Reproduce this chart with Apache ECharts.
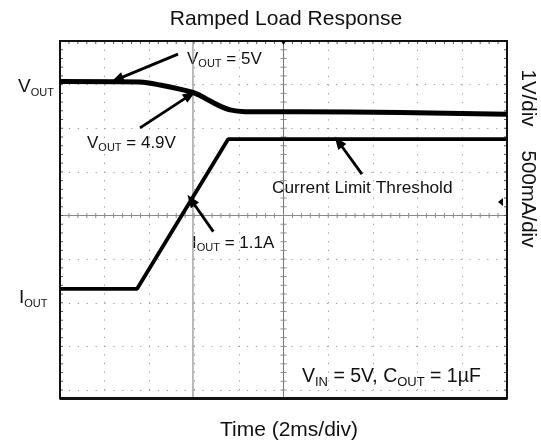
<!DOCTYPE html>
<html><head><meta charset="utf-8">
<script src="https://cdn.jsdelivr.net/npm/echarts@6/dist/echarts.min.js"></script>
<style>html,body{margin:0;padding:0;background:#fff}#c{width:541px;height:447px}</style>
</head><body><div id="c"></div>
<script>
// Time in ms relative to trigger (2 ms/div), amplitude in screen divisions (centre = 0)
const timeV = [-10, -6.42, -5.52, -4.05, -3.51, -2.93, -2.39, -1.72, 0.75, 5.22, 10];
const voutDiv = [3.07, 3.06, 2.99, 2.82, 2.69, 2.53, 2.42, 2.38, 2.38, 2.36, 2.32];
const timeI = [-10, -6.55, -2.48, 10];
const ioutDiv = [-1.68, -1.68, 1.75, 1.75];
const cursorTime = -4.05;
const triggerLevel = 0.31;
// annotation arrows: [tailTime, tailDiv, tipTime, tipDiv]
const arrowVout5 = [-4.72, 3.70, -7.45, 3.12];
const arrowVout49 = [-6.42, 2.01, -4.18, 2.76];
const arrowIout = [-3.14, -0.37, -4.13, 0.355];
const arrowLimit = [3.51, 0.95, 2.46, 1.69];

const FONT = '"Liberation Sans", Arial, sans-serif';
const chart = echarts.init(document.getElementById('c'), null, {renderer: 'canvas'});

function pairs(xs, ys) { return xs.map((x, i) => [x, ys[i]]); }
function arrow(a) {
  return [{coord: [a[0], a[1]], symbol: 'none'}, {coord: [a[2], a[3]], symbol: 'triangle', symbolSize: [10, 13]}];
}

function renderFrame(params, api) {
  const tl = api.coord([-10, 4]), br = api.coord([10, -4]);
  const x0 = tl[0], x1 = br[0], y0 = tl[1], y1 = br[1];
  const yB = y1 + 8.5;
  const c = api.coord([0, 0]);
  const cx = c[0], cy = c[1];
  const cur = api.coord([cursorTime, 0])[0];
  const ch = [];
  const ln = (a, b, c2, d, color, w) => ch.push({type: 'line', shape: {x1: a, y1: b, x2: c2, y2: d}, style: {stroke: color, lineWidth: w}});
  ln(cur, y0, cur, yB, '#777', 1);
  ln(x0, cy, x1, cy, '#8a8a8a', 1);
  ln(cx, y0, cx, yB, '#777', 1);
  for (let i = 0; i <= 50; i++) {
    const px = api.coord([-10 + i * 0.4, 0])[0];
    ln(px, cy - 2.5, px, cy + 2.5, '#8a8a8a', 1);
    ln(px, y0, px, y0 + 3, '#555', 1);
  }
  for (let j = 0; j <= 40; j++) {
    const py = api.coord([0, -4 + j * 0.2])[1];
    ln(cx - 3, py, cx + 3, py, '#8a8a8a', 1);
    ln(x0, py, x0 + 3, py, '#555', 1);
    ln(x1 - 3, py, x1, py, '#555', 1);
  }
  ch.push({type: 'rect', shape: {x: x0, y: y0, width: x1 - x0, height: yB - y0}, style: {fill: 'none', stroke: '#111', lineWidth: 2}});
  ln(x0, yB, x1, yB, '#111', 3);
  const tp = api.coord([10, triggerLevel]);
  ch.push({type: 'polygon', shape: {points: [[tp[0] - 9, tp[1]], [tp[0] - 4, tp[1] - 4], [tp[0] - 4, tp[1] + 4]]}, style: {fill: '#000'}});
  ch.push({type: 'polygon', shape: {points: [[cx - 2.5, y0], [cx + 2.5, y0], [cx, y0 + 4]]}, style: {fill: '#000'}});
  return {type: 'group', children: ch};
}

function rt(x, y, parts, size, subSize, drop) {
  return {
    type: 'text', x: x, y: y, silent: true,
    style: {
      text: parts, fill: '#111', font: size + 'px ' + FONT,
      align: 'left', verticalAlign: 'middle', textAlign: 'left', textVerticalAlign: 'middle',
      rich: {
        m: {fontSize: size, fontFamily: FONT, lineHeight: size + 4, fill: '#111'},
        s: {fontSize: subSize, fontFamily: FONT, lineHeight: size + 4 - 2 * drop, verticalAlign: 'bottom', fill: '#111'}
      }
    }
  };
}
function pt(x, y, text, size, rot) {
  return {
    type: 'text', x: x, y: y, rotation: rot || 0, silent: true,
    style: {text: text, fill: '#111', font: size + 'px ' + FONT, align: 'center', verticalAlign: 'middle', textAlign: 'center', textVerticalAlign: 'middle'}
  };
}

const option = {
  animation: false,
  backgroundColor: '#fff',
  grid: {left: 60, right: 34, top: 41, bottom: 57, containLabel: false},
  xAxis: {
    type: 'value', min: -10, max: 10, interval: 2,
    axisLine: {show: false}, axisTick: {show: false}, axisLabel: {show: false},
    splitLine: {show: true, lineStyle: {color: '#9a9a9a', width: 1, type: [1.2, 7.5]}}
  },
  yAxis: {
    type: 'value', min: -4, max: 4, interval: 1,
    axisLine: {show: false}, axisTick: {show: false}, axisLabel: {show: false},
    splitLine: {show: true, lineStyle: {color: '#9a9a9a', width: 1, type: [1.2, 7.7]}}
  },
  series: [
    {type: 'custom', name: 'frame', renderItem: renderFrame, data: [[0, 0]], clip: false, silent: true, z: 1},
    {type: 'line', name: 'VOUT', data: pairs(timeV, voutDiv), smooth: 0.3, showSymbol: false, silent: true, z: 3,
     lineStyle: {color: '#000', width: 5},
     markLine: {silent: true, animation: false, label: {show: false}, lineStyle: {color: '#000', width: 2.8, type: 'solid'},
       data: [arrow(arrowVout5), arrow(arrowVout49), arrow(arrowIout), arrow(arrowLimit)]}},
    {type: 'line', name: 'IOUT', data: pairs(timeI, ioutDiv), showSymbol: false, silent: true, z: 3,
     lineStyle: {color: '#000', width: 3.8}}
  ],
  graphic: [
    pt(286, 19, 'Ramped Load Response', 21),
    pt(289, 430, 'Time (2ms/div)', 21),
    pt(528, 98, '1V/div', 20.5, -Math.PI / 2),
    pt(528, 199, '500mA/div', 20.5, -Math.PI / 2),
    rt(18, 87, '{m|V}{s|OUT}', 19, 11, 3.5),
    rt(19, 298, '{m|I}{s|OUT}', 19, 11, 3.5),
    rt(187, 59, '{m|V}{s|OUT}{m| = 5V}', 17, 11, 3),
    rt(87, 143, '{m|V}{s|OUT}{m| = 4.9V}', 17, 11, 3),
    rt(192, 243, '{m|I}{s|OUT}{m| = 1.1A}', 17, 11, 3),
    rt(272, 188, '{m|Current Limit Threshold}', 17.3, 11, 3),
    rt(302, 377, '{m|V}{s|IN}{m| = 5V, C}{s|OUT}{m| = 1µF}', 19.5, 13, 3.5)
  ]
};
chart.setOption(option);
</script></body></html>
